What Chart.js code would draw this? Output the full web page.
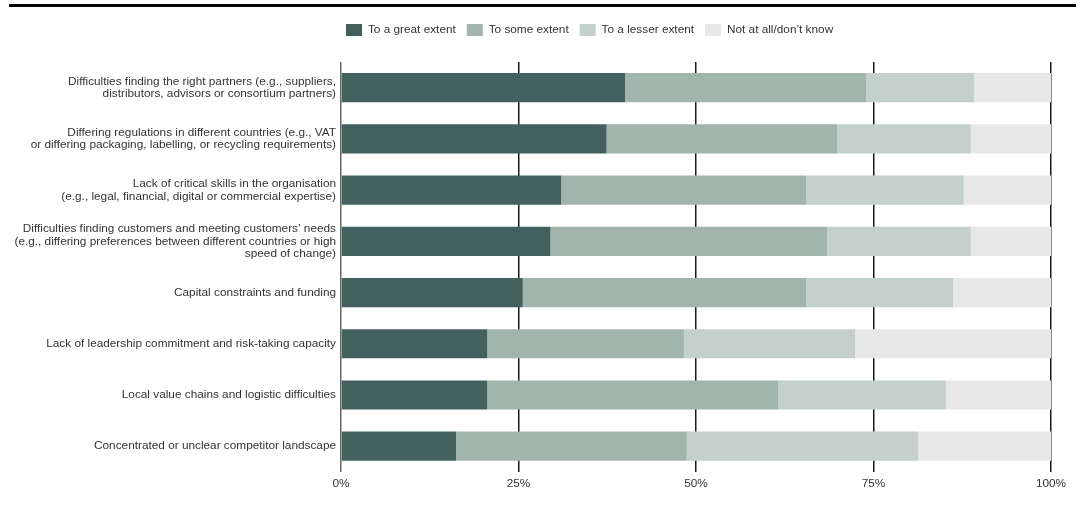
<!DOCTYPE html>
<html>
<head>
<meta charset="utf-8">
<script src="https://cdn.jsdelivr.net/npm/chart.js@4/dist/chart.umd.min.js"></script>
<style>
  html, body { margin: 0; padding: 0; background: #fff; }
  #wrap { position: relative; width: 1083px; height: 505px; }
  #rule { position: absolute; left: 9px; top: 4px; width: 1067px; height: 3px; background: #000; }
  canvas { position: absolute; left: 0; top: 0; }
</style>
</head>
<body>
<div id="wrap">
  <canvas id="chart" width="1083" height="505"></canvas>
  <div id="rule"></div>
</div>
<script>
// Obstacles, each split into shares of respondents (%)
const categories = [
  ['Difficulties finding the right partners (e.g., suppliers,', 'distributors, advisors or consortium partners)'],
  ['Differing regulations in different countries (e.g., VAT', 'or differing packaging, labelling, or recycling requirements)'],
  ['Lack of critical skills in the organisation', '(e.g., legal, financial, digital or commercial expertise)'],
  ['Difficulties finding customers and meeting customers\u2019 needs', '(e.g., differing preferences between different countries or high', 'speed of change)'],
  'Capital constraints and funding',
  'Lack of leadership commitment and risk-taking capacity',
  'Local value chains and logistic difficulties',
  'Concentrated or unclear competitor landscape'
];

const seriesNames = ['To a great extent', 'To some extent', 'To a lesser extent', 'Not at all/don\u2019t know'];

const greatExtent  = [40.0, 37.4, 31.0, 29.5, 25.6, 20.6, 20.6, 16.2];
const someExtent   = [34.0, 32.5, 34.5, 39.0, 39.9, 27.7, 41.0, 32.5];
const lesserExtent = [15.2, 18.8, 22.2, 20.2, 20.7, 24.1, 23.6, 32.6];
const notAtAll     = [10.8, 11.3, 12.3, 11.3, 13.8, 27.6, 14.8, 18.7];

const tickValues = [0, 25, 50, 75, 100];

const palette = ['#41605e', '#a1b5ac', '#c3d0cb', '#e8e8e8'];

const FONT_SIZE = 11.8;
Chart.defaults.font.family = "'Liberation Sans', Arial, sans-serif";
Chart.defaults.font.size = FONT_SIZE;
Chart.defaults.color = '#333';

// Legend sits a little above the plot and starts just right of the axis
const legendPlacement = {
  id: 'legendPlacement',
  beforeLayout(chart) {
    const lg = chart.legend;
    if (lg && !lg._gapPatched) {
      const fit = lg.fit;
      lg.fit = function () { fit.call(this); this.height += 16; };
      lg._gapPatched = true;
    }
  },
  afterLayout(chart) {
    const lg = chart.legend;
    if (lg) { lg.left -= 6; lg.right -= 6; }
  }
};

const seriesData = [greatExtent, someExtent, lesserExtent, notAtAll];

new Chart(document.getElementById('chart'), {
  type: 'bar',
  data: {
    labels: categories,
    datasets: seriesData.map((d, i) => ({
      label: seriesNames[i],
      data: d,
      backgroundColor: palette[i],
      borderWidth: 0,
      categoryPercentage: 1,
      barPercentage: 0.57
    }))
  },
  options: {
    indexAxis: 'y',
    responsive: false,
    animation: false,
    devicePixelRatio: 1,
    layout: { padding: { top: 13, left: 0, right: 32, bottom: 9 } },
    plugins: {
      legend: {
        position: 'top',
        align: 'start',
        fullSize: false,
        labels: {
          boxWidth: 16,
          boxHeight: 12,
          padding: 11,
          font: { size: FONT_SIZE },
          color: '#333'
        }
      },
      tooltip: { enabled: false }
    },
    scales: {
      x: {
        stacked: true,
        min: 0,
        max: 100,
        afterBuildTicks(scale) { scale.ticks = tickValues.map(v => ({ value: v })); },
        ticks: {
          callback: v => v + '%',
          padding: 5,
          color: '#333',
          font: { size: FONT_SIZE }
        },
        grid: {
          color: ctx => (ctx.tick && ctx.tick.value === 0) ? '#666' : '#1a1a1a',
          lineWidth: 1.5,
          tickLength: 0,
          drawTicks: false
        },
        border: { display: false }
      },
      y: {
        stacked: true,
        afterFit(scale) { scale.width = 341; },
        ticks: {
          padding: 5,
          color: '#333',
          font: { size: FONT_SIZE, lineHeight: 1.06 },
          autoSkip: false
        },
        grid: { display: false, drawTicks: false },
        border: { display: false }
      }
    }
  },
  plugins: [legendPlacement]
});
</script>
</body>
</html>
